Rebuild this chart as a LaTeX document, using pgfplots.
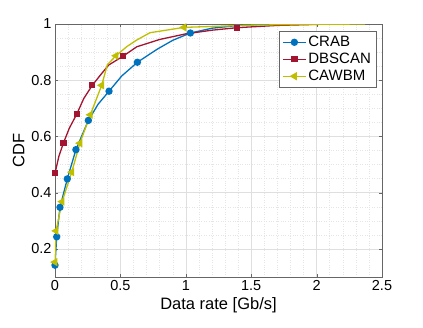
\documentclass[border=0pt]{standalone}
\usepackage{pgfplots}
\pgfplotsset{compat=1.18}
\usepackage{fontspec}
\setmainfont{Liberation Sans}
\definecolor{cblue}{rgb}{0,0.447,0.741}
\definecolor{cred}{rgb}{0.635,0.078,0.184}
\definecolor{cyel}{rgb}{0.75,0.75,0}
\begin{document}
\begin{tikzpicture}[x=1pt,y=1pt]
\path (-55,-50) rectangle (368,277);
\begin{axis}[
    at={(0,0)}, anchor=south west,
    scale only axis,
    width=327pt, height=253pt,
    xmin=0, xmax=2.5, ymin=0.1, ymax=1,
    xtick={0,0.5,...,2.5},
    ytick={0.2,0.4,...,1.0},
    minor x tick num=4,
    minor y tick num=3,
    grid=both,
    major grid style={gray!25, line width=0.5pt},
    minor grid style={gray!20, dotted, line width=0.4pt},
    axis line style={gray!80!black, line width=0.5pt},
    tick style={gray!80!black},
    tick align=inside,
    major tick length=3pt,
    minor tick length=0pt,
    /pgf/number format/assume math mode=true,
    ticklabel style={font=\fontsize{14.5}{16}\selectfont},
    label style={font=\fontsize{16.5}{18}\selectfont},
    xlabel={Data rate [Gb/s]},
    ylabel={CDF},
    yticklabel style={/pgf/number format/fixed},
    legend style={at={(0.982,0.972)}, anchor=north east,
        font=\fontsize{15}{17}\selectfont, draw=gray!80!black,
        row sep=1pt, inner sep=3pt},
    legend cell align=left,
    legend image code/.code={\draw[mark indices={2}] plot coordinates {(0cm,0cm) (0.4cm,0cm) (0.8cm,0cm)};},
    every axis plot/.append style={line width=1.3pt},
]
\addplot[cblue, mark=*, mark size=3pt,
    mark indices={1,2,3,4,5,6,8,10,13}] coordinates {
(0,0.142) (0.013,0.243) (0.038,0.348) (0.094,0.449) (0.16,0.553)
(0.255,0.657) (0.33,0.715) (0.413,0.761) (0.51,0.815) (0.63,0.864)
(0.78,0.91) (0.9,0.942) (1.035,0.968) (1.2,0.985) (1.4,0.995) (1.65,1.0)
};
\addlegendentry{CRAB}
\addplot[cred, mark=square*, mark size=2.5pt,
    mark indices={1,3,5,7,10,15}] coordinates {
(0,0.469) (0.03,0.53) (0.064,0.576) (0.11,0.63) (0.166,0.679)
(0.22,0.735) (0.285,0.782) (0.35,0.82) (0.41,0.854) (0.522,0.886)
(0.625,0.919) (0.8,0.945) (1.0,0.965) (1.2,0.978) (1.394,0.987)
(1.7,0.995) (2.115,1.0)
};
\addlegendentry{DBSCAN}
\addplot[cyel, mark=triangle*, mark options={rotate=90}, mark size=3.5pt,
    mark indices={1,2,3,4,5,6,7,9,13}] coordinates {
(0,0.153) (0.008,0.264) (0.054,0.368) (0.128,0.473) (0.19,0.576)
(0.27,0.677) (0.357,0.782) (0.40,0.855) (0.466,0.887) (0.55,0.92)
(0.625,0.943) (0.726,0.969) (0.986,0.988) (1.5,0.996) (2.0,0.999) (2.37,1.0)
};
\addlegendentry{CAWBM}
\end{axis}
\end{tikzpicture}
\end{document}
